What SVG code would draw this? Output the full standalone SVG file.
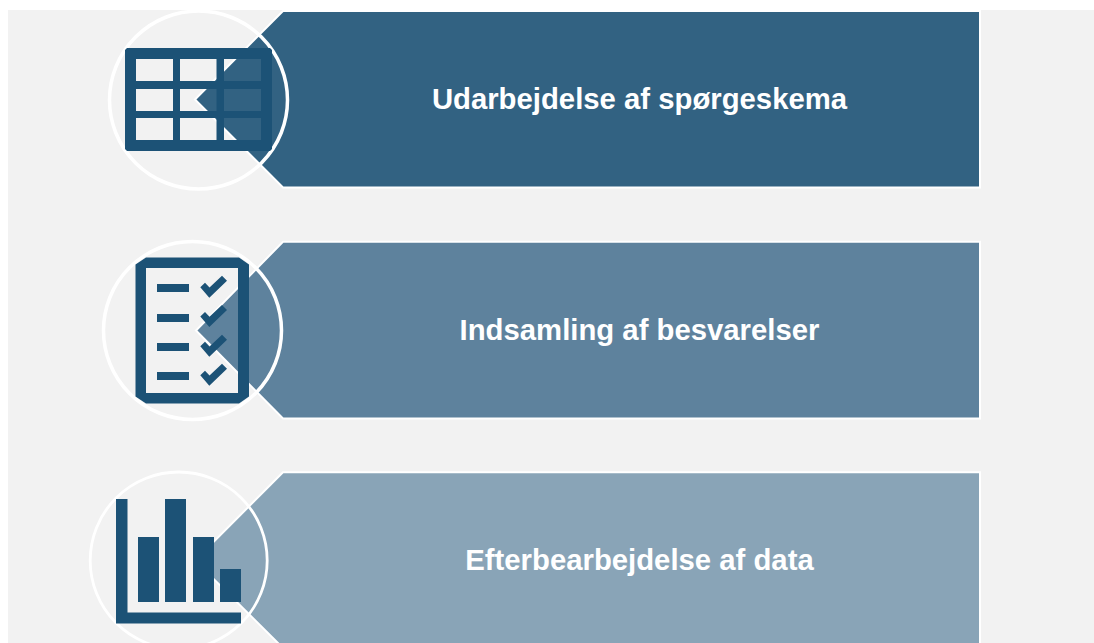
<svg xmlns="http://www.w3.org/2000/svg" width="1094" height="643" viewBox="0 0 1094 643">
<style>
.band{stroke:#fff;stroke-width:2}
.ring{fill:none;stroke:#fff;stroke-width:3.500}
.icon{fill:#1c5276}
.label{fill:#fff;font-family:"Liberation Sans",Arial,sans-serif;font-weight:700;font-size:29.300px;text-anchor:middle}
</style>
<defs><polygon id="check" points="200.3,287.3 205,282.7 209.5,287.5 222,275.7 227,280.7 209.3,297.7"/></defs>
<rect width="1094" height="643" fill="#fff"/>
<rect x="8" y="10" width="1086" height="633" fill="#f2f2f2"/>
<g id="node-1">
<polygon class="band" fill="#326282" points="283,11 980,11 980,187.500 283,187.500 195,99.500"/>
<circle class="ring" cx="198.500" cy="100" r="89"/>
<path class="icon" fill-rule="evenodd" d="M127,48H270L272,50V149L270,151H127L125,149V50ZM136,59V81H173V59ZM180,59V81H216.500V59ZM224,59V81H261V59ZM136,89V111H173V89ZM180,89V111H216.500V89ZM224,89V111H261V89ZM136,118V140H173V118ZM180,118V140H216.500V118ZM224,118V140H261V118Z"/>
<text class="label" x="639.500" y="109">Udarbejdelse af spørgeskema</text>
</g>
<g id="node-2">
<polygon class="band" fill="#5e829d" points="283,241.800 980,241.800 980,418.500 283,418.500 196,330.500"/>
<circle class="ring" cx="192.500" cy="330.500" r="89"/>
<path class="icon" fill-rule="evenodd" d="M146,257.500H239L249,264.500V396.500L239,403.500H146L135.500,396.500V264.500ZM146,268V393H238V268Z"/>
<rect class="icon" x="157" y="284" width="32" height="8"/>
<rect class="icon" x="157" y="314" width="32" height="8"/>
<rect class="icon" x="157" y="343" width="32" height="8"/>
<rect class="icon" x="157" y="372" width="32" height="8"/>
<use href="#check" class="icon"/>
<use href="#check" class="icon" y="29.300"/>
<use href="#check" class="icon" y="59"/>
<use href="#check" class="icon" y="88"/>
<text class="label" x="639.500" y="340">Indsamling af besvarelser</text>
</g>
<g id="node-3">
<polygon class="band" fill="#89a4b7" points="283,472.300 980,472.300 980,648 283,648 195,560.500"/>
<circle class="ring" cx="178.700" cy="560.500" r="88.500" style="stroke-width:2.800"/>
<path class="icon" d="M116,499H127.500V612.500H241V623.500H116Z"/>
<rect class="icon" x="138" y="537" width="21" height="65"/>
<rect class="icon" x="165" y="499" width="21" height="103"/>
<rect class="icon" x="193" y="537" width="21" height="65"/>
<rect class="icon" x="220" y="569" width="21" height="33"/>
<text class="label" x="639.500" y="570">Efterbearbejdelse af data</text>
</g>
</svg>
